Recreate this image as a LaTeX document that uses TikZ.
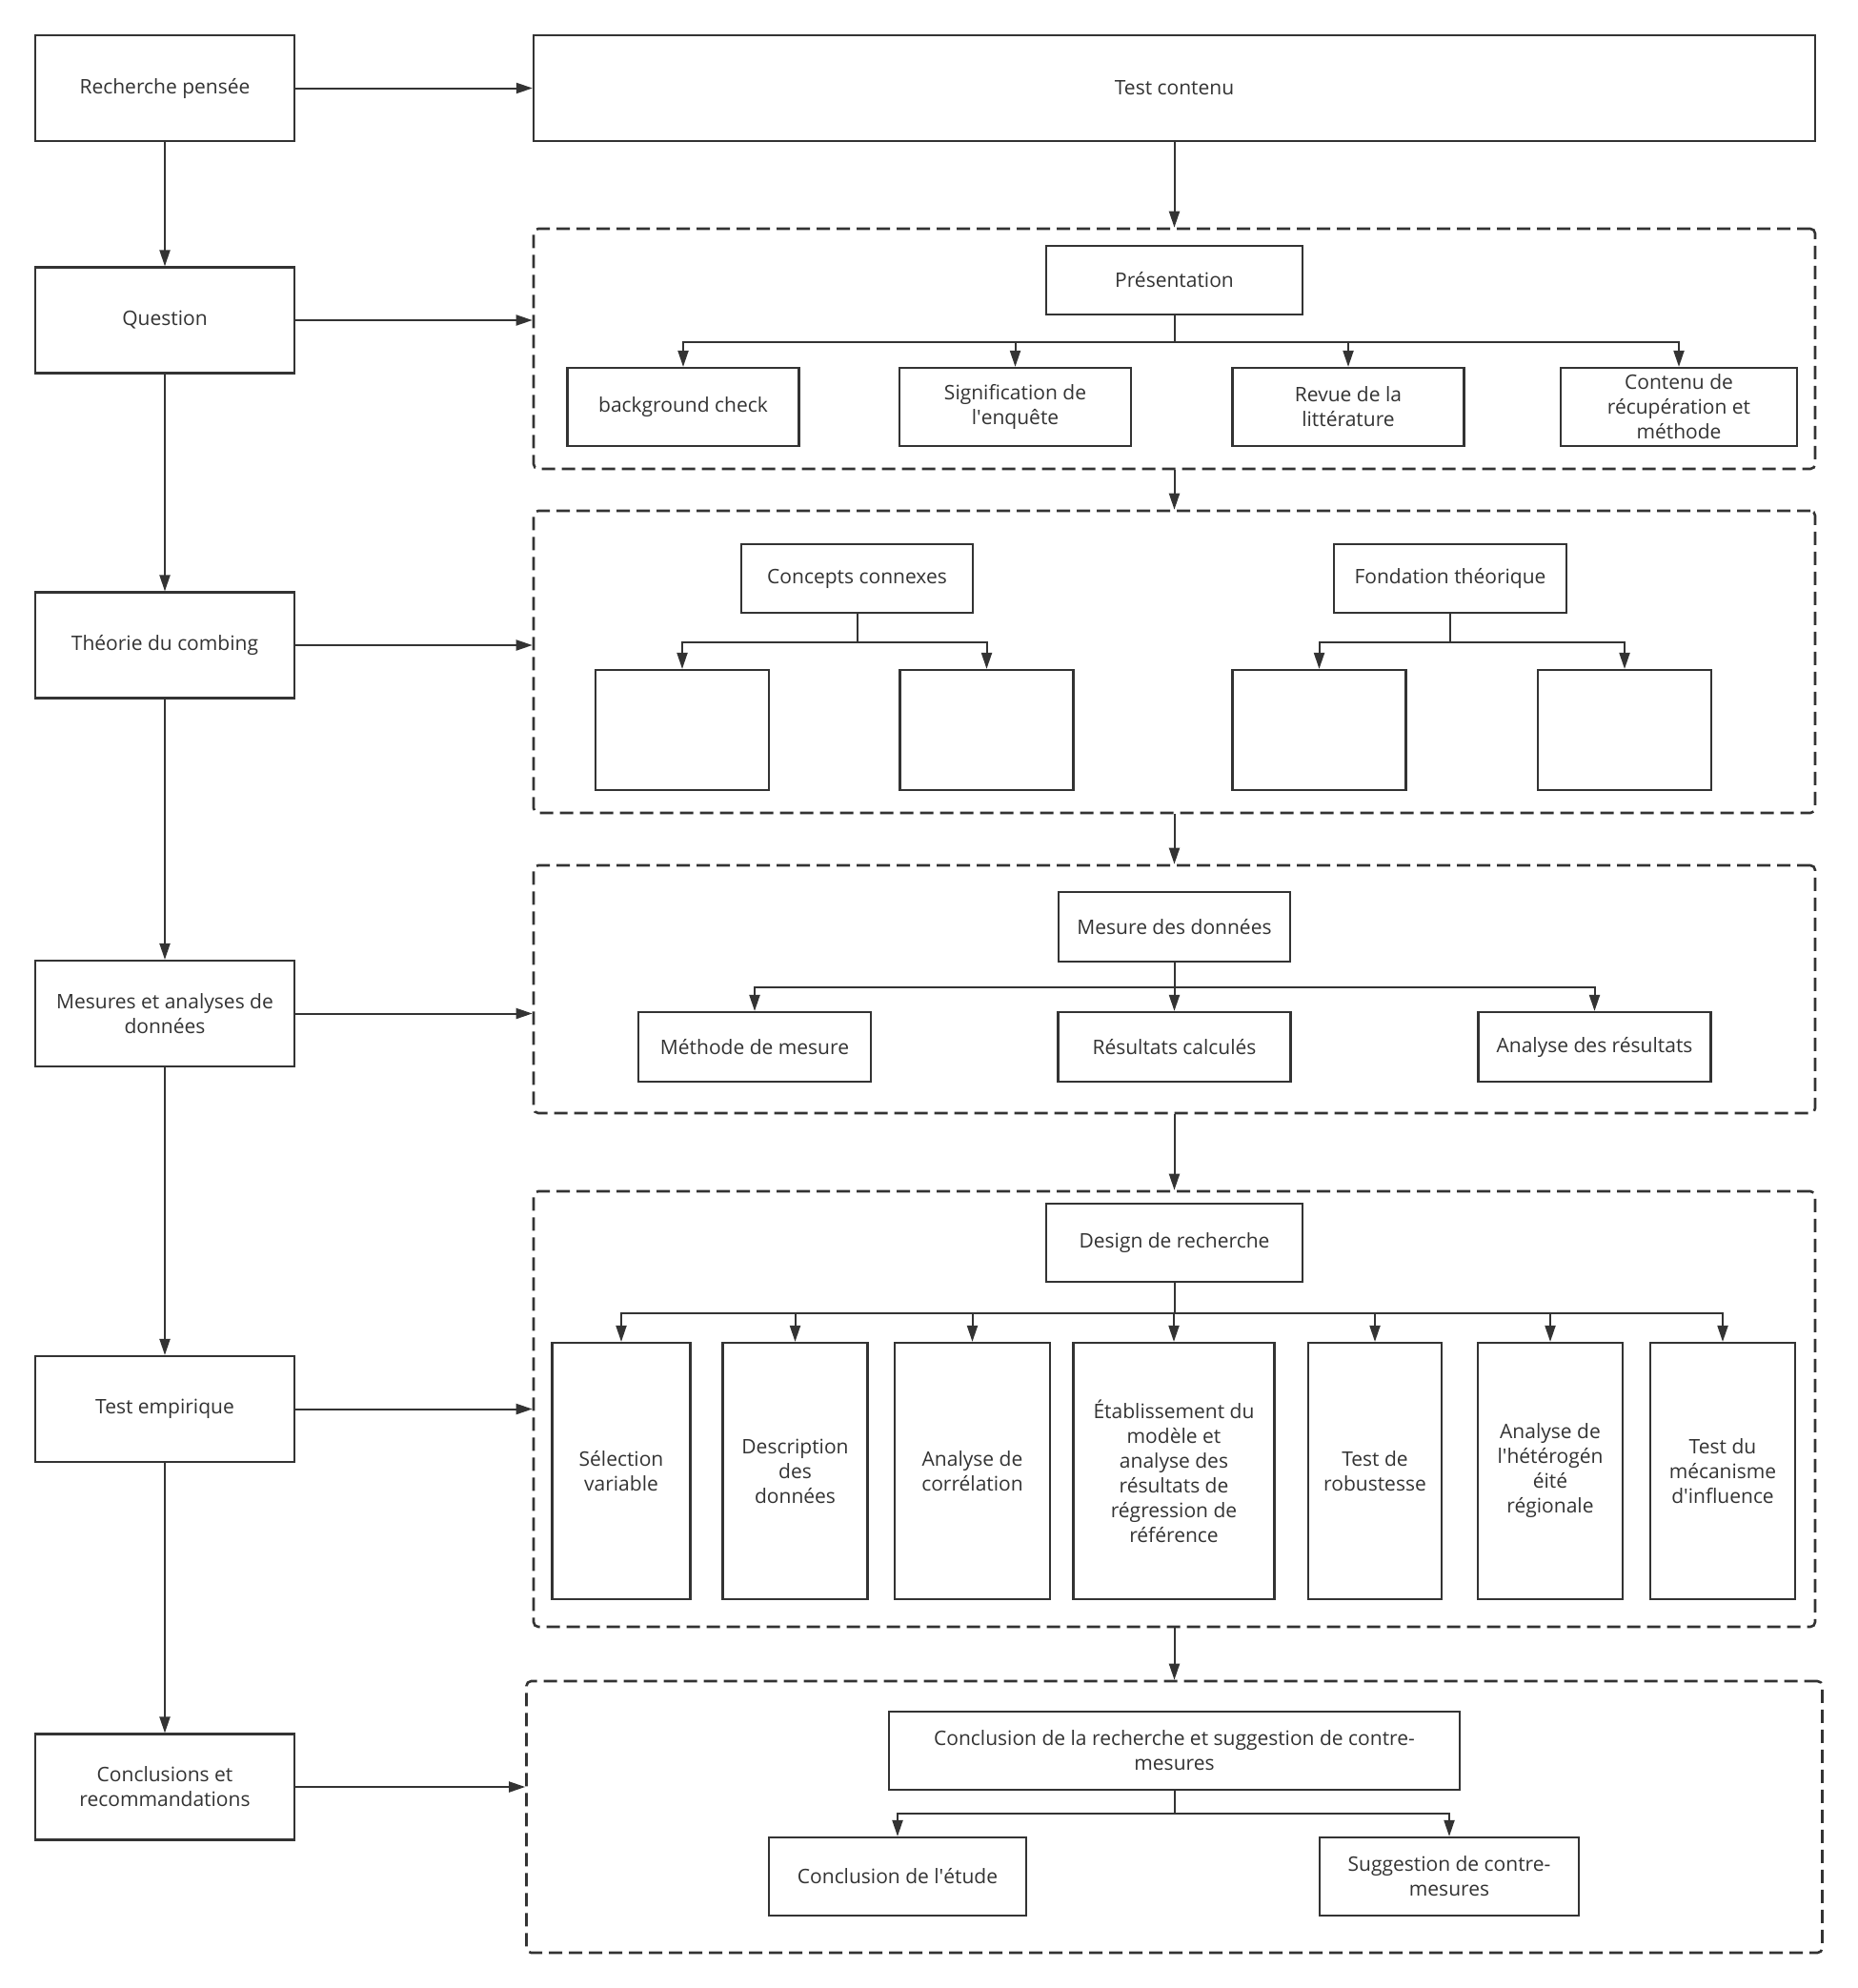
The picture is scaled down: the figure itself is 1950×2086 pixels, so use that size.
\documentclass[tikz,border=0pt]{standalone}
\usepackage{fontspec}
\setmainfont{Open Sans}
\usetikzlibrary{arrows.meta,positioning}
\definecolor{ink}{HTML}{333333}

\begin{document}
\begin{tikzpicture}[x=1pt, y=-1pt, font=\fontsize{21pt}{26pt}\selectfont, text=ink,
    block/.style={rectangle, draw=ink, line width=2.2pt, align=center, inner sep=3pt},
    stage/.style={block, minimum width=272pt, minimum height=111pt},
    frame/.style={rectangle, draw=ink, line width=2.6pt, dash pattern=on 14pt off 7pt, rounded corners=5pt},
    arr/.style={draw=ink, line width=2pt, -{Triangle[length=17pt, width=11pt]}}]

    \useasboundingbox[fill=white] (0,0) rectangle (1950,2086);

    % etapes a gauche
    \node[stage] (rech) at (173,92.5) {Recherche pensée};
    \node[stage, below of=rech, node distance=243.5pt] (quest) {Question};
    \node[stage, below of=quest, node distance=341pt] (theo) {Théorie du combing};
    \node[stage, below of=theo, node distance=386.5pt] (mes) {Mesures et analyses de\\données};
    \node[stage, below of=mes, node distance=415pt] (emp) {Test empirique};
    \node[stage, below of=emp, node distance=396.5pt] (concl) {Conclusions et\\recommandations};

    \node[block, right of=rech, node distance=1059.5pt, minimum width=1345pt, minimum height=111pt] (contenu) {Test contenu};

    % cadres
    \node[frame, minimum width=1345pt, minimum height=252pt] (grp1) at (1232.5,366) {};
    \node[frame, minimum width=1345pt, minimum height=317pt] (grp2) at (1232.5,694.5) {};
    \node[frame, minimum width=1345pt, minimum height=260pt] (grp3) at (1232.5,1038) {};
    \node[frame, minimum width=1345pt, minimum height=457pt] (grp4) at (1232.5,1478.5) {};
    \node[frame, minimum width=1360pt, minimum height=285pt] (grp5) at (1232.5,1906.5) {};

    % cadre 1
    \node[block, minimum width=269pt, minimum height=72pt] (pres) at (1232.5,294) {Présentation};
    \node[block, minimum width=243pt, minimum height=82pt] (bgcheck) at (717,427) {background check};
    \node[block, minimum width=243pt, minimum height=82pt] (signif) at (1065.5,427) {Signification de\\l\textquotesingle enquête};
    \node[block, minimum width=243pt, minimum height=82pt] (revue) at (1415,427) {Revue de la\\littérature};
    \node[block, minimum width=248pt, minimum height=82pt] (recup) at (1762,427) {Contenu de\\récupération et\\méthode};

    % cadre 2
    \node[block, minimum width=243pt, minimum height=72pt] (concepts) at (899.5,607) {Concepts connexes};
    \node[block, minimum width=244pt, minimum height=72pt] (fondation) at (1522,607) {Fondation théorique};
    \node[block, minimum width=182pt, minimum height=126pt] (vide1) at (716,766) {};
    \node[block, minimum width=182pt, minimum height=126pt] (vide2) at (1035.5,766) {};
    \node[block, minimum width=182pt, minimum height=126pt] (vide3) at (1384.5,766) {};
    \node[block, minimum width=182pt, minimum height=126pt] (vide4) at (1705,766) {};

    % cadre 3
    \node[block, minimum width=243pt, minimum height=73pt] (mesure) at (1232.5,972.5) {Mesure des données};
    \node[block, minimum width=244pt, minimum height=73pt] (methode) at (792,1098.5) {Méthode de mesure};
    \node[block, minimum width=244pt, minimum height=73pt] (calc) at (1232.5,1098.5) {Résultats calculés};
    \node[block, minimum width=244pt, minimum height=73pt] (anares) at (1673.5,1098.5) {Analyse des résultats};

    % cadre 4
    \node[block, minimum width=269pt, minimum height=82pt] (design) at (1232.5,1304) {Design de recherche};
    \node[block, minimum width=145pt, minimum height=269pt] (selec) at (652,1543.5) {Sélection\\variable};
    \node[block, minimum width=152pt, minimum height=269pt] (descr) at (834.5,1543.5) {Description\\des\\données};
    \node[block, minimum width=163pt, minimum height=269pt] (corr) at (1020.5,1543.5) {Analyse de\\corrélation};
    \node[block, minimum width=211pt, minimum height=269pt] (etab) at (1232,1543.5) {Établissement du\\modèle et\\analyse des\\résultats de\\régression de\\référence};
    \node[block, minimum width=140pt, minimum height=269pt] (robu) at (1443,1543.5) {Test de\\robustesse};
    \node[block, minimum width=152pt, minimum height=269pt] (hetero) at (1627,1543.5) {Analyse de\\l\textquotesingle hétérogén\\éité\\régionale};
    \node[block, minimum width=152pt, minimum height=269pt] (meca) at (1808,1543.5) {Test du\\mécanisme\\d\textquotesingle influence};

    % cadre 5
    \node[block, minimum width=599pt, minimum height=82pt] (synth) at (1232.5,1837) {Conclusion de la recherche et suggestion de contre-\\mesures};
    \node[block, minimum width=270pt, minimum height=82pt] (etude) at (942,1969) {Conclusion de l\textquotesingle étude};
    \node[block, minimum width=272pt, minimum height=82pt] (suggest) at (1521,1969) {Suggestion de contre-\\mesures};

    % fleches a gauche
    \draw[arr] (rech) -- (quest);
    \draw[arr] (quest) -- (theo);
    \draw[arr] (theo) -- (mes);
    \draw[arr] (mes) -- (emp);
    \draw[arr] (emp) -- (concl);
    \draw[arr] (rech) -- (contenu);
    \draw[arr] (quest.east) -- (quest.east -| grp1.west);
    \draw[arr] (theo.east) -- (theo.east -| grp2.west);
    \draw[arr] (mes.east) -- (mes.east -| grp3.west);
    \draw[arr] (emp.east) -- (emp.east -| grp4.west);
    \draw[arr] (concl.east) -- (concl.east -| grp5.west);

    % fleches entre cadres
    \draw[arr] (contenu) -- (grp1);
    \draw[arr] (grp1) -- (grp2);
    \draw[arr] (grp2) -- (grp3);
    \draw[arr] (grp3) -- (grp4);
    \draw[arr] (grp4.south) -- (grp4.south |- grp5.north);

    % arbres
    \foreach \c in {bgcheck,signif,revue,recup}
        \draw[arr] (pres.south) -- ++(0,28) -| (\c.north);
    \foreach \c in {vide1,vide2}
        \draw[arr] (concepts.south) -- ++(0,30) -| (\c.north);
    \foreach \c in {vide3,vide4}
        \draw[arr] (fondation.south) -- ++(0,30) -| (\c.north);
    \foreach \c in {methode,calc,anares}
        \draw[arr] (mesure.south) -- ++(0,26) -| (\c.north);
    \foreach \c in {selec,descr,corr,etab,robu,hetero,meca}
        \draw[arr] (design.south) -- ++(0,32) -| (\c.north);
    \foreach \c in {etude,suggest}
        \draw[arr] (synth.south) -- ++(0,24) -| (\c.north);

\end{tikzpicture}
\end{document}
